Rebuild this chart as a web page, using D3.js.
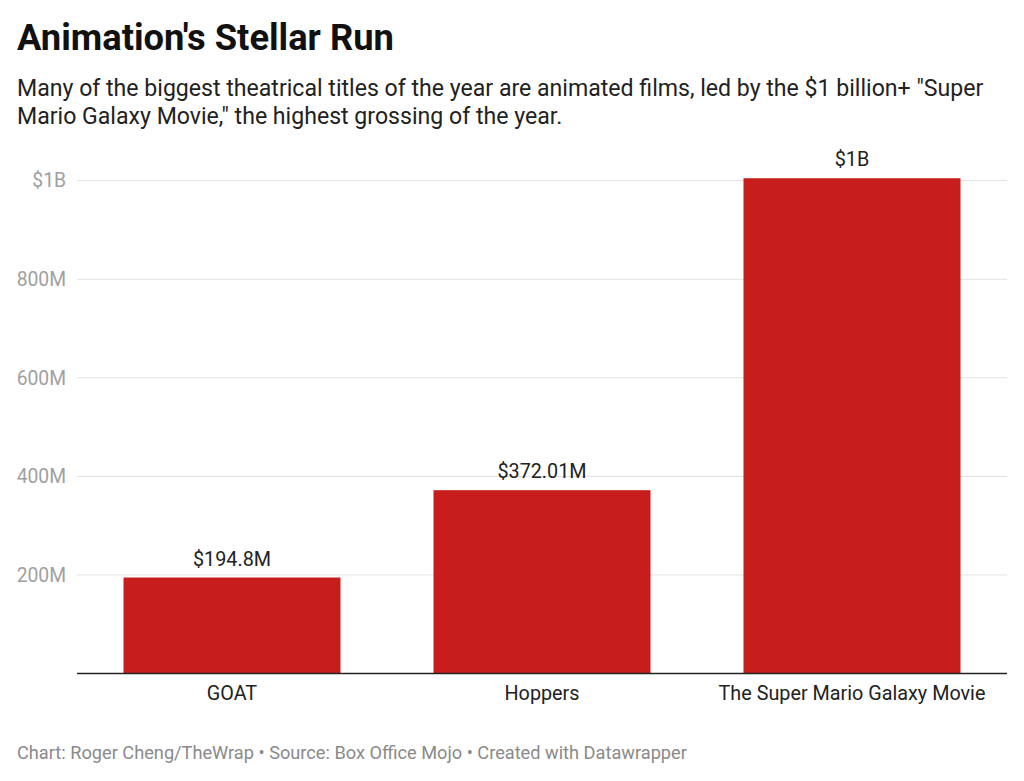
<!DOCTYPE html>
<html>
<head>
<meta charset="utf-8">
<script src="https://cdn.jsdelivr.net/npm/d3@7"></script>
<style>
  body { margin: 0; background: #fff; font-family: Roboto, sans-serif; }
</style>
</head>
<body>
<script>
var films = ['GOAT', 'Hoppers', 'The Super Mario Galaxy Movie'];
var gross = [194.8, 372.01, 1005];
var valueLabels = ['$194.8M', '$372.01M', '$1B'];
var tickValues = [200, 400, 600, 800, 1000];
var tickLabels = ['200M', '400M', '600M', '800M', '$1B'];

var width = 1024, height = 781;
var svg = d3.select('body').append('svg')
    .attr('width', width)
    .attr('height', height);

svg.append('text')
    .attr('x', 17).attr('y', 50)
    .attr('font-size', 36.3).attr('font-weight', 700)
    .attr('fill', '#111')
    .text("Animation's Stellar Run");

var sub = ['Many of the biggest theatrical titles of the year are animated films, led by the $1 billion+ "Super',
           'Mario Galaxy Movie," the highest grossing of the year.'];
svg.selectAll('text.sub')
    .data(sub)
    .enter()
    .append('text')
    .attr('class', 'sub')
    .attr('x', 17)
    .attr('y', function (d, i) { return 96 + i * 28; })
    .attr('font-size', 23.1)
    .attr('fill', '#222')
    .text(function (d) { return d; });

var x = d3.scaleBand()
    .domain(films)
    .range([77, 1007])
    .paddingInner(0.3)
    .paddingOuter(0.15);

var y = d3.scaleLinear()
    .domain([0, 1000])
    .range([673.5, 180.7]);

// gridlines
svg.selectAll('line.grid')
    .data(tickValues)
    .enter()
    .append('line')
    .attr('class', 'grid')
    .attr('x1', 77).attr('x2', 1007)
    .attr('y1', function (d) { return y(d); })
    .attr('y2', function (d) { return y(d); })
    .attr('stroke', '#e1e1e1')
    .attr('stroke-width', 1);

svg.selectAll('text.tick')
    .data(tickValues)
    .enter()
    .append('text')
    .attr('class', 'tick')
    .attr('x', 66)
    .attr('y', function (d) { return y(d); })
    .attr('dy', '0.35em')
    .attr('text-anchor', 'end')
    .attr('font-size', 19.3)
    .attr('fill', '#a0a0a0')
    .text(function (d, i) { return tickLabels[i]; });

svg.selectAll('rect')
    .data(gross)
    .enter()
    .append('rect')
    .attr('x', function (d, i) { return x(films[i]); })
    .attr('y', function (d) { return y(d); })
    .attr('width', x.bandwidth())
    .attr('height', function (d) { return y(0) - y(d); })
    .attr('fill', '#c71e1d');

svg.selectAll('text.val')
    .data(gross)
    .enter()
    .append('text')
    .attr('class', 'val')
    .attr('x', function (d, i) { return x(films[i]) + x.bandwidth() / 2; })
    .attr('y', function (d) { return y(d) - 12; })
    .attr('text-anchor', 'middle')
    .attr('font-size', 19.8)
    .attr('fill', '#222')
    .text(function (d, i) { return valueLabels[i]; });

// baseline
svg.append('line')
    .attr('x1', 77).attr('x2', 1007)
    .attr('y1', y(0)).attr('y2', y(0))
    .attr('stroke', '#222')
    .attr('stroke-width', 1.5);

svg.selectAll('text.cat')
    .data(films)
    .enter()
    .append('text')
    .attr('class', 'cat')
    .attr('x', function (d) { return x(d) + x.bandwidth() / 2; })
    .attr('y', 700)
    .attr('text-anchor', 'middle')
    .attr('font-size', 19.8)
    .attr('fill', '#222')
    .text(function (d) { return d; });

svg.append('text')
    .attr('x', 17).attr('y', 759)
    .attr('font-size', 18.2)
    .attr('fill', '#8a8a8a')
    .text('Chart: Roger Cheng/TheWrap \u2022 Source: Box Office Mojo \u2022 Created with Datawrapper');
</script>
</body>
</html>
